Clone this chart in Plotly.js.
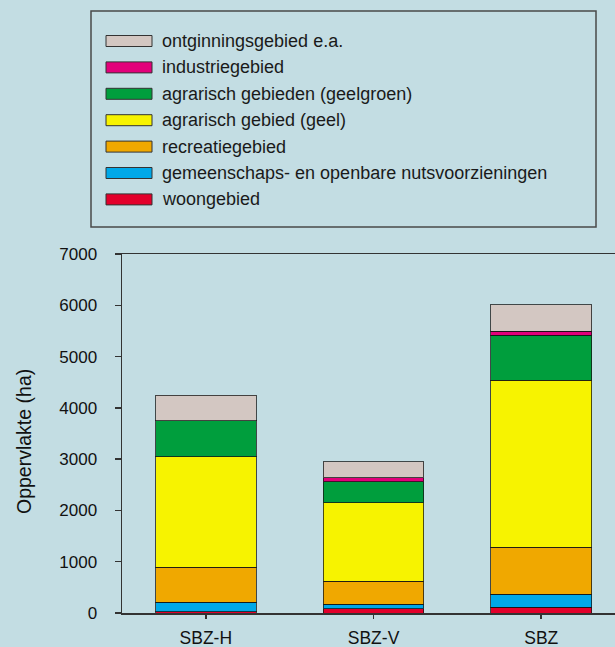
<!DOCTYPE html>
<html>
<head>
<meta charset="utf-8">
<script src="https://cdn.plot.ly/plotly-3.0.1.min.js"></script>
<style>html,body{margin:0;padding:0;background:#c3dde3;}</style>
</head>
<body>
<div id="chart" style="width:615px;height:647px;"></div>
<script>
// Data
const categories = ["SBZ-H", "SBZ-V", "SBZ"];
const seriesNames = [
  "woongebied",
  "gemeenschaps- en openbare nutsvoorzieningen",
  "recreatiegebied",
  "agrarisch gebied (geel)",
  "agrarisch gebieden (geelgroen)",
  "industriegebied",
  "ontginningsgebied e.a."
];
const woongebied = [25, 85, 110];
const gemeenschaps = [185, 85, 255];
const recreatiegebied = [680, 450, 920];
const agrarischGeel = [2160, 1525, 3255];
const agrarischGeelgroen = [700, 415, 875];
const industriegebied = [0, 80, 75];
const ontginningsgebied = [500, 310, 525];
const seriesValues = [woongebied, gemeenschaps, recreatiegebied, agrarischGeel, agrarischGeelgroen, industriegebied, ontginningsgebied];
const seriesColors = ["#e2002b", "#00a8e8", "#f0a800", "#f7f300", "#009e3d", "#e2007a", "#d3c7c2"];
const yTicks = [0, 1000, 2000, 3000, 4000, 5000, 6000, 7000];
const yTitle = "Oppervlakte (ha)";

const W = 615, H = 647;
const L = 122, R = 0, T = 254, B = 34;
const pw = W - L - R, ph = H - T - B;
const px2x = p => (p - L) / pw;
const py2y = p => (H - B - p) / ph;
const FONT = "Liberation Sans, Arial, sans-serif";

const traces = seriesValues.map((vals, i) => ({
  type: "bar",
  x: categories,
  y: vals,
  name: seriesNames[i],
  marker: { color: seriesColors[i], line: { color: "rgba(20,20,20,0.75)", width: 1 } },
  width: 0.6,
  showlegend: false,
  hoverinfo: "x+y+name"
}));

// custom legend (top item = last series)
const shapes = [];
const annotations = [];
shapes.push({
  type: "rect", xref: "paper", yref: "paper",
  x0: px2x(91), x1: px2x(596), y0: py2y(227), y1: py2y(11),
  line: { color: "#4a4a4a", width: 1.5 }, fillcolor: "rgba(0,0,0,0)", layer: "above"
});
const order = seriesNames.map((_, i) => seriesNames.length - 1 - i);
order.forEach((si, row) => {
  const cy = 41 + row * 26.4;
  shapes.push({
    type: "rect", xref: "paper", yref: "paper",
    x0: px2x(106), x1: px2x(152), y0: py2y(cy + 5.5), y1: py2y(cy - 5.5),
    fillcolor: seriesColors[si], line: { color: "#333", width: 1 }, layer: "above"
  });
  annotations.push({
    xref: "paper", yref: "paper", x: px2x(160), y: py2y(cy),
    xanchor: "left", yanchor: "middle", showarrow: false,
    text: seriesNames[si],
    font: { family: FONT, size: 18, color: "#1a1a1a" }
  });
});
// y axis title as rotated annotation
annotations.push({
  xref: "paper", yref: "paper", x: px2x(24), y: py2y(442),
  xanchor: "center", yanchor: "middle", showarrow: false, textangle: -90,
  text: yTitle,
  font: { family: FONT, size: 19.5, color: "#111" }
});

const layout = {
  width: W, height: H,
  margin: { l: L, r: R, t: T, b: B, pad: 0 },
  paper_bgcolor: "#c3dde3",
  plot_bgcolor: "#c3dde3",
  barmode: "stack",
  font: { family: FONT, size: 17, color: "#111" },
  xaxis: {
    type: "category",
    range: [-0.5, 2.44],
    showline: true, linecolor: "#333", linewidth: 1.5, mirror: true,
    ticks: "outside", ticklen: 4, tickcolor: "#333", tickwidth: 1.5,
    showgrid: false, zeroline: false,
    tickfont: { size: 17.5, color: "#111" },
    ticklabelstandoff: 4
  },
  yaxis: {
    range: [0, 7000],
    tickvals: yTicks,
    ticktext: yTicks.map(String),
    showline: true, linecolor: "#333", linewidth: 1.5,
    ticks: "outside", ticklen: 6, tickcolor: "#333", tickwidth: 1.5,
    showgrid: false, zeroline: false,
    tickfont: { size: 17, color: "#111" },
    ticklabelstandoff: 14,
    automargin: false
  },
  shapes: shapes,
  annotations: annotations
};

Plotly.newPlot("chart", traces, layout, { displayModeBar: false, staticPlot: true });
</script>
</body>
</html>
